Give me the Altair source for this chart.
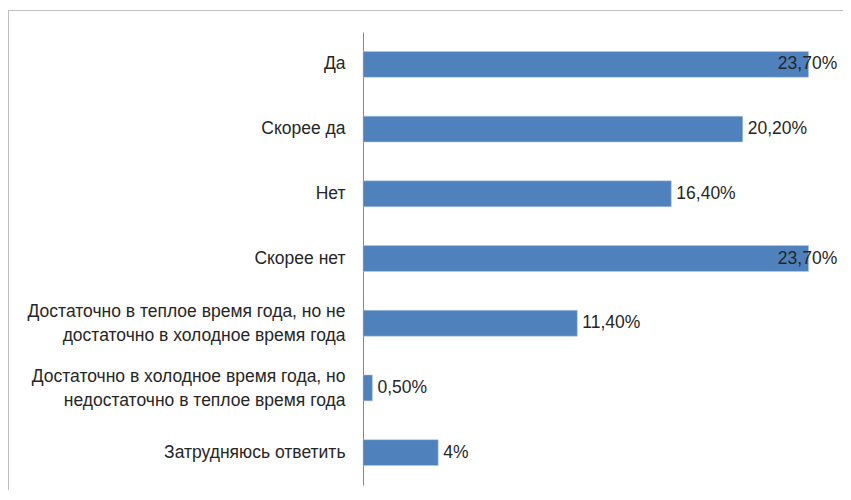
import altair as alt
import pandas as pd

categories = [
    "Да",
    "Скорее да",
    "Нет ",
    "Скорее нет",
    "Достаточно в теплое время года, но не|достаточно в холодное время года",
    "Достаточно в холодное время года, но|недостаточно в теплое время года",
    "Затрудняюсь ответить",
]
values = [23.7, 20.2, 16.4, 23.7, 11.4, 0.5, 4.0]
labels = ["23,70%", "20,20%", "16,40%", "23,70%", "11,40%", "0,50%", "4%"]

df = pd.DataFrame({"cat": categories, "v": values, "lab": labels})

FONT = "Liberation Sans"
W = 470
H = 453
PAD_L = 355

y_enc = alt.Y(
    "cat:N",
    sort=categories,
    scale=alt.Scale(paddingInner=0.6, paddingOuter=0.3),
    axis=alt.Axis(
        title=None,
        ticks=False,
        domainColor="#868686",
        labelExpr="split(datum.label, '|')",
        labelFont=FONT,
        labelFontSize=17.5,
        labelColor="#262626",
        labelPadding=18,
        labelLineHeight=24,
        labelLimit=400,
        labelOffset={"condition": {"test": "indexof(datum.label, '|') >= 0", "value": -11}, "value": 0},
    ),
)
x_scale = alt.Scale(domain=[0, 25], nice=False)

bars = alt.Chart(df).mark_bar(color="#4f81bd", stroke="#b9cde5", strokeWidth=0.5).encode(
    x=alt.X("v:Q", scale=x_scale, axis=None),
    y=y_enc,
)

text = (
    alt.Chart(df)
    .transform_calculate(lx="min(datum.v, 21.8)")
    .mark_text(align="left", baseline="middle", dx=5, font=FONT, fontSize=17.5, color="#262626")
    .encode(
        x=alt.X("lx:Q", scale=x_scale, axis=None),
        y=alt.Y("cat:N", sort=categories),
        text="lab:N",
    )
)

border = alt.Chart(df).mark_rect(fill=None, stroke="#bfbfbf", strokeWidth=1).encode(
    x=alt.value(-PAD_L + 0.5), x2=alt.value(W + 200), y=alt.value(-21.5), y2=alt.value(H + 200)
)

chart = (
    alt.layer(border, bars, text)
    .properties(
        width=W,
        height=H,
        autosize=alt.AutoSizeParams(type="none"),
        padding={"left": PAD_L, "top": 24, "right": 10, "bottom": 5},
    )
    .configure_view(stroke=None)
)

chart.save("out.html", embed_options={"renderer": "svg", "actions": False})
